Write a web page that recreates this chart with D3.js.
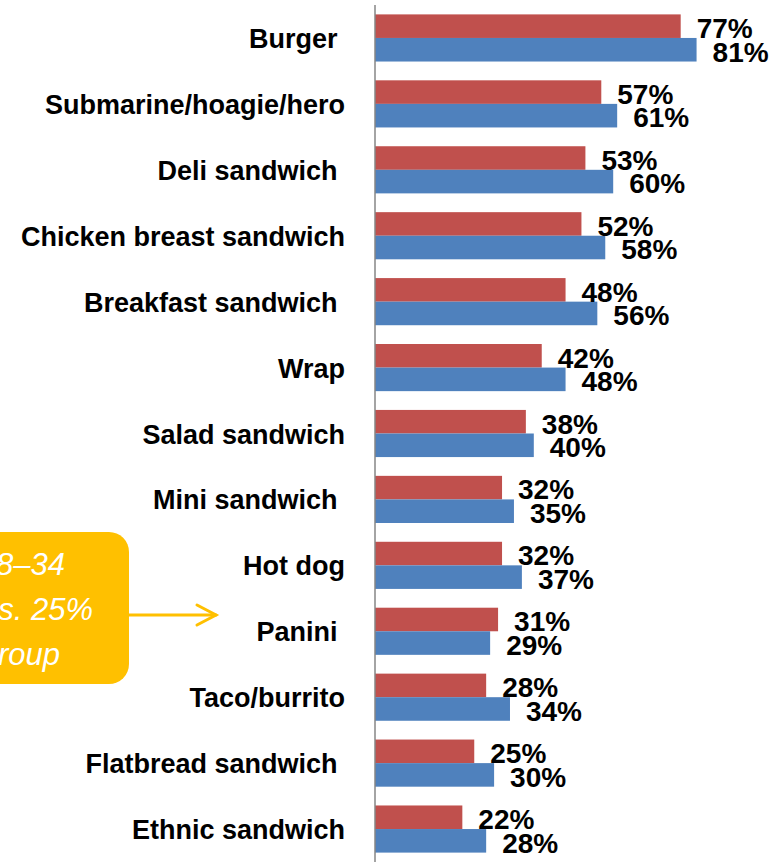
<!DOCTYPE html>
<html>
<head>
<meta charset="utf-8">
<script src="https://cdn.jsdelivr.net/npm/d3@7"></script>
<style>
	html, body { margin: 0; padding: 0; background: #fff; }
	svg { display: block; }
	text { white-space: pre; }
</style>
</head>
<body>
<script>
// categories top to bottom (trailing spaces are in the original labels)
const categories = [
	'Burger ', 'Submarine/hoagie/hero', 'Deli sandwich ', 'Chicken breast sandwich',
	'Breakfast sandwich ', 'Wrap', 'Salad sandwich', 'Mini sandwich ',
	'Hot dog', 'Panini ', 'Taco/burrito', 'Flatbread sandwich ', 'Ethnic sandwich'
];
const redValues = [77, 57, 53, 52, 48, 42, 38, 32, 32, 31, 28, 25, 22];
const blueValues = [81, 61, 60, 58, 56, 48, 40, 35, 37, 29, 34, 30, 28];
const series = ['red', 'blue'];
const colors = { red: '#C0504D', blue: '#4F81BD' };
const calloutLines = ['18–34', 'vs. 25%', 'group'];

const W = 779, H = 866;
const svg = d3.select('body').append('svg')
	.attr('width', W)
	.attr('height', H);

const x = d3.scaleLinear().domain([0, 100]).range([375, 772]);
const y = d3.scaleBand().domain(categories).range([5, 862])
	.paddingInner(0.285).paddingOuter(0.1425);
const ySub = d3.scaleBand().domain(series).range([0, y.bandwidth()]);

const rows = categories.map((c, i) => ({ c, red: redValues[i], blue: blueValues[i] }));

const groups = svg.selectAll('g.row')
	.data(rows)
	.join('g')
	.attr('class', 'row')
	.attr('transform', (d) => `translate(0,${y(d.c)})`);

groups.selectAll('rect')
	.data((d) => series.map((s) => ({ s, v: d[s] })))
	.join('rect')
	.attr('x', x(0))
	.attr('y', (d) => ySub(d.s))
	.attr('width', (d) => x(d.v) - x(0))
	.attr('height', ySub.bandwidth())
	.attr('fill', (d) => colors[d.s]);

groups.selectAll('text.val')
	.data((d) => series.map((s) => ({ s, v: d[s] })))
	.join('text')
	.attr('class', 'val')
	.attr('x', (d) => x(d.v) + 16)
	.attr('y', (d) => ySub(d.s) + ySub.bandwidth() / 2 + 2)
	.attr('dy', '0.35em')
	.attr('font-family', '"Liberation Sans", Arial, sans-serif')
	.attr('font-weight', 'bold')
	.attr('font-size', 28)
	.attr('fill', '#000')
	.text((d) => d.v + '%');

// category axis
const yAxis = d3.axisLeft(y).tickSize(0).tickPadding(30);
const ax = svg.append('g')
	.attr('transform', `translate(${x(0)},0)`)
	.call(yAxis);
ax.select('.domain').attr('stroke', '#868686').attr('stroke-width', 1.5)
	.attr('d', `M0,${y.range()[0]}V${y.range()[1]}`);
ax.selectAll('.tick text')
	.attr('font-family', '"Liberation Sans", Arial, sans-serif')
	.attr('font-weight', 'bold')
	.attr('font-size', 27)
	.attr('fill', '#000')
	.attr('dy', '0.37em');

// callout box (runs off the left edge)
const orange = '#FFC000';
svg.append('rect')
	.attr('x', -60).attr('y', 532)
	.attr('width', 189).attr('height', 152)
	.attr('rx', 20)
	.attr('fill', orange);

svg.append('g').selectAll('text')
	.data(calloutLines)
	.join('text')
	.attr('x', (d, i) => [65, 93, 60][i])
	.attr('y', (d, i) => 575 + i * 45)
	.attr('text-anchor', 'end')
	.attr('font-family', '"Liberation Sans", Arial, sans-serif')
	.attr('font-style', 'italic')
	.attr('font-size', 31)
	.attr('fill', '#fff')
	.text((d) => d);

const arrow = svg.append('g')
	.attr('stroke', orange)
	.attr('stroke-width', 3)
	.attr('fill', 'none')
	.attr('stroke-linecap', 'round');
arrow.append('line').attr('x1', 129).attr('y1', 615).attr('x2', 216).attr('y2', 615);
arrow.append('path').attr('d', 'M197,605L216,615L197,625');
</script>
</body>
</html>
